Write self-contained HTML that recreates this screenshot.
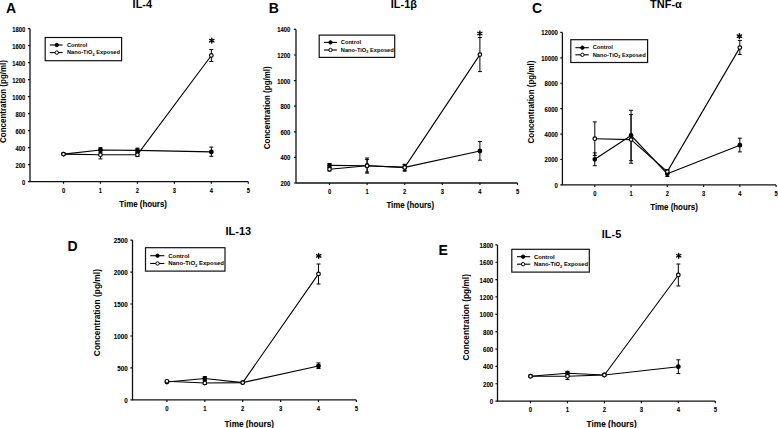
<!DOCTYPE html>
<html><head><meta charset="utf-8"><style>
html,body{margin:0;padding:0;background:#fff;}
svg{display:block;}
text{font-family:"Liberation Sans", sans-serif;font-weight:bold;fill:#000;}
.tk{stroke:#000;stroke-width:0.1px;}
</style></head><body>
<svg width="778" height="428" viewBox="0 0 778 428">
<rect width="778" height="428" fill="#fff"/>
<path d="M30.00 28.70V181.65H248.30" fill="none" stroke="#111" stroke-width="1.3" stroke-linejoin="round"/>
<text transform="translate(25.20 184.54) scale(0.833 1)" font-size="6.96" text-anchor="end" class="tk">0</text>
<text transform="translate(25.20 167.55) scale(0.833 1)" font-size="6.96" text-anchor="end" class="tk">200</text>
<text transform="translate(25.20 150.55) scale(0.833 1)" font-size="6.96" text-anchor="end" class="tk">400</text>
<text transform="translate(25.20 133.56) scale(0.833 1)" font-size="6.96" text-anchor="end" class="tk">600</text>
<text transform="translate(25.20 116.56) scale(0.833 1)" font-size="6.96" text-anchor="end" class="tk">800</text>
<text transform="translate(25.20 99.57) scale(0.833 1)" font-size="6.96" text-anchor="end" class="tk">1000</text>
<text transform="translate(25.20 82.58) scale(0.833 1)" font-size="6.96" text-anchor="end" class="tk">1200</text>
<text transform="translate(25.20 65.58) scale(0.833 1)" font-size="6.96" text-anchor="end" class="tk">1400</text>
<text transform="translate(25.20 48.59) scale(0.833 1)" font-size="6.96" text-anchor="end" class="tk">1600</text>
<text transform="translate(25.20 31.59) scale(0.833 1)" font-size="6.96" text-anchor="end" class="tk">1800</text>
<text transform="translate(63.50 193.10) scale(0.833 1)" font-size="6.96" text-anchor="middle" class="tk">0</text>
<text transform="translate(100.46 193.10) scale(0.833 1)" font-size="6.96" text-anchor="middle" class="tk">1</text>
<text transform="translate(137.42 193.10) scale(0.833 1)" font-size="6.96" text-anchor="middle" class="tk">2</text>
<text transform="translate(174.38 193.10) scale(0.833 1)" font-size="6.96" text-anchor="middle" class="tk">3</text>
<text transform="translate(211.34 193.10) scale(0.833 1)" font-size="6.96" text-anchor="middle" class="tk">4</text>
<text transform="translate(248.30 193.10) scale(0.833 1)" font-size="6.96" text-anchor="middle" class="tk">5</text>
<path d="M27.90 181.65H30.00 M27.90 164.66H30.00 M27.90 147.66H30.00 M27.90 130.67H30.00 M27.90 113.67H30.00 M27.90 96.68H30.00 M27.90 79.68H30.00 M27.90 62.69H30.00 M27.90 45.69H30.00 M27.90 28.70H30.00 M63.50 181.65V183.75 M100.46 181.65V183.75 M137.42 181.65V183.75 M174.38 181.65V183.75 M211.34 181.65V183.75 M248.30 181.65V183.75" stroke="#111" stroke-width="1.2" stroke-linecap="butt"/>
<text x="6.00" y="12.90" font-size="14" text-anchor="start" >A</text>
<text x="132.60" y="7.70" font-size="11" text-anchor="start" >IL-4</text>
<text transform="translate(119.30 206.50) scale(0.870 1)" font-size="9.08" text-anchor="start" class="tk">Time (hours)</text>
<text transform="translate(6.00 101.50) rotate(-90) scale(0.909 1)" x="0" y="0" font-size="8.80" text-anchor="middle">Concentration (pg/ml)</text>
<rect x="45.20" y="37.50" width="76.40" height="23.20" fill="#fff" stroke="#111" stroke-width="1.2"/>
<path d="M49.80 45.00H62.60" stroke="#000" stroke-width="1.1"/>
<circle cx="56.80" cy="45.00" r="1.7" fill="#000" stroke="#000" stroke-width="1"/>
<path d="M49.80 52.60H62.60" stroke="#000" stroke-width="1.1"/>
<circle cx="56.80" cy="52.60" r="1.7" fill="#fff" stroke="#000" stroke-width="1"/>
<text x="67.00" y="46.75" font-size="5.7" text-anchor="start" >Control</text>
<text x="67.00" y="54.35" font-size="5.7">Nano-TiO<tspan font-size="3.88" dy="1.43">2</tspan><tspan dy="-1.43"> Exposed</tspan></text>
<path d="M63.50 154.10 L100.46 150.00 L137.42 150.40 L211.34 151.90" fill="none" stroke="#000" stroke-width="1.1" stroke-linejoin="round"/>
<path d="M63.50 154.10 L100.46 154.70 L137.42 154.70 L211.34 55.50" fill="none" stroke="#000" stroke-width="1.1" stroke-linejoin="round"/>
<path d="M100.46 147.70V152.30M98.46 147.70H102.46M98.46 152.30H102.46" stroke="#000" stroke-width="1.0" fill="none"/>
<path d="M137.42 148.10V152.70M135.42 148.10H139.42M135.42 152.70H139.42" stroke="#000" stroke-width="1.0" fill="none"/>
<path d="M211.34 147.10V156.30M209.34 147.10H213.34M209.34 156.30H213.34" stroke="#000" stroke-width="1.0" fill="none"/>
<path d="M100.46 150.50V158.90M98.46 150.50H102.46M98.46 158.90H102.46" stroke="#000" stroke-width="1.0" fill="none"/>
<path d="M137.42 152.80V156.60M135.42 152.80H139.42M135.42 156.60H139.42" stroke="#000" stroke-width="1.0" fill="none"/>
<path d="M211.34 49.50V61.50M209.34 49.50H213.34M209.34 61.50H213.34" stroke="#000" stroke-width="1.0" fill="none"/>
<circle cx="63.50" cy="154.10" r="1.8" fill="#000" stroke="#000" stroke-width="1.2"/>
<circle cx="100.46" cy="150.00" r="1.8" fill="#000" stroke="#000" stroke-width="1.2"/>
<circle cx="137.42" cy="150.40" r="1.8" fill="#000" stroke="#000" stroke-width="1.2"/>
<circle cx="211.34" cy="151.90" r="1.8" fill="#000" stroke="#000" stroke-width="1.2"/>
<circle cx="63.50" cy="154.10" r="1.8" fill="#fff" stroke="#000" stroke-width="1.2"/>
<circle cx="100.46" cy="154.70" r="1.8" fill="#fff" stroke="#000" stroke-width="1.2"/>
<circle cx="137.42" cy="154.70" r="1.8" fill="#fff" stroke="#000" stroke-width="1.2"/>
<circle cx="211.34" cy="55.50" r="1.8" fill="#fff" stroke="#000" stroke-width="1.2"/>
<path d="M211.80 38.10L211.80 43.10M209.63 39.35L213.97 41.85M209.63 41.85L213.97 39.35" stroke="#000" stroke-width="1.3" stroke-linecap="round"/>
<path d="M296.00 29.40V183.00H517.50" fill="none" stroke="#111" stroke-width="1.3" stroke-linejoin="round"/>
<text transform="translate(290.30 185.93) scale(0.833 1)" font-size="7.08" text-anchor="end" class="tk">200</text>
<text transform="translate(290.30 160.33) scale(0.833 1)" font-size="7.08" text-anchor="end" class="tk">400</text>
<text transform="translate(290.30 134.73) scale(0.833 1)" font-size="7.08" text-anchor="end" class="tk">600</text>
<text transform="translate(290.30 109.13) scale(0.833 1)" font-size="7.08" text-anchor="end" class="tk">800</text>
<text transform="translate(290.30 83.53) scale(0.833 1)" font-size="7.08" text-anchor="end" class="tk">1000</text>
<text transform="translate(290.30 57.93) scale(0.833 1)" font-size="7.08" text-anchor="end" class="tk">1200</text>
<text transform="translate(290.30 32.33) scale(0.833 1)" font-size="7.08" text-anchor="end" class="tk">1400</text>
<text transform="translate(329.50 194.00) scale(0.833 1)" font-size="6.96" text-anchor="middle" class="tk">0</text>
<text transform="translate(367.10 194.00) scale(0.833 1)" font-size="6.96" text-anchor="middle" class="tk">1</text>
<text transform="translate(404.70 194.00) scale(0.833 1)" font-size="6.96" text-anchor="middle" class="tk">2</text>
<text transform="translate(442.30 194.00) scale(0.833 1)" font-size="6.96" text-anchor="middle" class="tk">3</text>
<text transform="translate(479.90 194.00) scale(0.833 1)" font-size="6.96" text-anchor="middle" class="tk">4</text>
<text transform="translate(517.50 194.00) scale(0.833 1)" font-size="6.96" text-anchor="middle" class="tk">5</text>
<path d="M293.90 183.00H296.00 M293.90 157.40H296.00 M293.90 131.80H296.00 M293.90 106.20H296.00 M293.90 80.60H296.00 M293.90 55.00H296.00 M293.90 29.40H296.00 M329.50 183.00V185.10 M367.10 183.00V185.10 M404.70 183.00V185.10 M442.30 183.00V185.10 M479.90 183.00V185.10 M517.50 183.00V185.10" stroke="#111" stroke-width="1.2" stroke-linecap="butt"/>
<text x="268.70" y="12.90" font-size="14" text-anchor="start" >B</text>
<text x="390.70" y="7.80" font-size="11" text-anchor="start" >IL-1β</text>
<text transform="translate(386.40 208.00) scale(0.870 1)" font-size="9.08" text-anchor="start" class="tk">Time (hours)</text>
<text transform="translate(270.10 107.75) rotate(-90) scale(0.909 1)" x="0" y="0" font-size="8.80" text-anchor="middle">Concentration (pg/ml)</text>
<rect x="319.20" y="35.10" width="75.50" height="22.30" fill="#fff" stroke="#111" stroke-width="1.2"/>
<path d="M323.90 42.40H336.90" stroke="#000" stroke-width="1.1"/>
<circle cx="330.50" cy="42.40" r="1.7" fill="#000" stroke="#000" stroke-width="1"/>
<path d="M323.90 50.00H336.90" stroke="#000" stroke-width="1.1"/>
<circle cx="330.50" cy="50.00" r="1.7" fill="#fff" stroke="#000" stroke-width="1"/>
<text x="340.80" y="44.15" font-size="5.7" text-anchor="start" >Control</text>
<text x="340.80" y="51.75" font-size="5.7">Nano-TiO<tspan font-size="3.88" dy="1.43">2</tspan><tspan dy="-1.43"> Exposed</tspan></text>
<path d="M329.50 165.40 L367.10 165.70 L404.70 167.40 L479.90 151.00" fill="none" stroke="#000" stroke-width="1.1" stroke-linejoin="round"/>
<path d="M329.50 169.30 L367.10 165.70 L404.70 167.40 L479.90 54.60" fill="none" stroke="#000" stroke-width="1.1" stroke-linejoin="round"/>
<path d="M329.50 163.50V167.30M327.50 163.50H331.50M327.50 167.30H331.50" stroke="#000" stroke-width="1.0" fill="none"/>
<path d="M367.10 159.60V173.10M365.10 159.60H369.10M365.10 173.10H369.10" stroke="#000" stroke-width="1.0" fill="none"/>
<path d="M404.70 164.40V170.40M402.70 164.40H406.70M402.70 170.40H406.70" stroke="#000" stroke-width="1.0" fill="none"/>
<path d="M479.90 141.50V160.20M477.90 141.50H481.90M477.90 160.20H481.90" stroke="#000" stroke-width="1.0" fill="none"/>
<path d="M329.50 167.50V171.00M327.50 167.50H331.50M327.50 171.00H331.50" stroke="#000" stroke-width="1.0" fill="none"/>
<path d="M367.10 158.00V172.00M365.10 158.00H369.10M365.10 172.00H369.10" stroke="#000" stroke-width="1.0" fill="none"/>
<path d="M404.70 164.40V171.20M402.70 164.40H406.70M402.70 171.20H406.70" stroke="#000" stroke-width="1.0" fill="none"/>
<path d="M479.90 37.50V71.60M477.90 37.50H481.90M477.90 71.60H481.90" stroke="#000" stroke-width="1.0" fill="none"/>
<circle cx="329.50" cy="165.40" r="1.8" fill="#000" stroke="#000" stroke-width="1.2"/>
<circle cx="367.10" cy="165.70" r="1.8" fill="#000" stroke="#000" stroke-width="1.2"/>
<circle cx="404.70" cy="167.40" r="1.8" fill="#000" stroke="#000" stroke-width="1.2"/>
<circle cx="479.90" cy="151.00" r="1.8" fill="#000" stroke="#000" stroke-width="1.2"/>
<circle cx="329.50" cy="169.30" r="1.8" fill="#fff" stroke="#000" stroke-width="1.2"/>
<circle cx="367.10" cy="165.70" r="1.8" fill="#fff" stroke="#000" stroke-width="1.2"/>
<circle cx="404.70" cy="167.40" r="1.8" fill="#fff" stroke="#000" stroke-width="1.2"/>
<circle cx="479.90" cy="54.60" r="1.8" fill="#fff" stroke="#000" stroke-width="1.2"/>
<path d="M479.85 31.00L479.85 36.00M477.68 32.25L482.02 34.75M477.68 34.75L482.02 32.25" stroke="#000" stroke-width="1.3" stroke-linecap="round"/>
<path d="M562.40 32.40V184.90H776.10" fill="none" stroke="#111" stroke-width="1.3" stroke-linejoin="round"/>
<text transform="translate(557.90 187.88) scale(0.833 1)" font-size="7.20" text-anchor="end" class="tk">0</text>
<text transform="translate(557.90 162.46) scale(0.833 1)" font-size="7.20" text-anchor="end" class="tk">2000</text>
<text transform="translate(557.90 137.04) scale(0.833 1)" font-size="7.20" text-anchor="end" class="tk">4000</text>
<text transform="translate(557.90 111.63) scale(0.833 1)" font-size="7.20" text-anchor="end" class="tk">6000</text>
<text transform="translate(557.90 86.21) scale(0.833 1)" font-size="7.20" text-anchor="end" class="tk">8000</text>
<text transform="translate(557.90 60.79) scale(0.833 1)" font-size="7.20" text-anchor="end" class="tk">10000</text>
<text transform="translate(557.90 35.38) scale(0.833 1)" font-size="7.20" text-anchor="end" class="tk">12000</text>
<text transform="translate(594.80 196.00) scale(0.833 1)" font-size="6.96" text-anchor="middle" class="tk">0</text>
<text transform="translate(631.06 196.00) scale(0.833 1)" font-size="6.96" text-anchor="middle" class="tk">1</text>
<text transform="translate(667.32 196.00) scale(0.833 1)" font-size="6.96" text-anchor="middle" class="tk">2</text>
<text transform="translate(703.58 196.00) scale(0.833 1)" font-size="6.96" text-anchor="middle" class="tk">3</text>
<text transform="translate(739.84 196.00) scale(0.833 1)" font-size="6.96" text-anchor="middle" class="tk">4</text>
<text transform="translate(776.10 196.00) scale(0.833 1)" font-size="6.96" text-anchor="middle" class="tk">5</text>
<path d="M560.30 184.90H562.40 M560.30 159.48H562.40 M560.30 134.07H562.40 M560.30 108.65H562.40 M560.30 83.23H562.40 M560.30 57.82H562.40 M560.30 32.40H562.40 M594.80 184.90V187.00 M631.06 184.90V187.00 M667.32 184.90V187.00 M703.58 184.90V187.00 M739.84 184.90V187.00 M776.10 184.90V187.00" stroke="#111" stroke-width="1.2" stroke-linecap="butt"/>
<text x="532.00" y="12.90" font-size="14" text-anchor="start" >C</text>
<text x="650.00" y="8.00" font-size="11" text-anchor="start" >TNF-α</text>
<text transform="translate(650.20 209.90) scale(0.870 1)" font-size="9.08" text-anchor="start" class="tk">Time (hours)</text>
<text transform="translate(533.50 102.05) rotate(-90) scale(0.909 1)" x="0" y="0" font-size="8.80" text-anchor="middle">Concentration (pg/ml)</text>
<rect x="570.80" y="39.70" width="76.80" height="22.80" fill="#fff" stroke="#111" stroke-width="1.2"/>
<path d="M575.40 47.70H588.80" stroke="#000" stroke-width="1.1"/>
<circle cx="582.40" cy="47.70" r="1.7" fill="#000" stroke="#000" stroke-width="1"/>
<path d="M575.40 54.80H588.80" stroke="#000" stroke-width="1.1"/>
<circle cx="582.40" cy="54.80" r="1.7" fill="#fff" stroke="#000" stroke-width="1"/>
<text x="592.70" y="49.45" font-size="5.7" text-anchor="start" >Control</text>
<text x="592.70" y="56.55" font-size="5.7">Nano-TiO<tspan font-size="3.88" dy="1.43">2</tspan><tspan dy="-1.43"> Exposed</tspan></text>
<path d="M594.80 159.30 L631.06 135.50 L667.32 173.80 L739.84 145.20" fill="none" stroke="#000" stroke-width="1.1" stroke-linejoin="round"/>
<path d="M594.80 138.70 L631.06 139.60 L667.32 171.60 L739.84 47.60" fill="none" stroke="#000" stroke-width="1.1" stroke-linejoin="round"/>
<path d="M594.80 152.90V165.70M592.80 152.90H596.80M592.80 165.70H596.80" stroke="#000" stroke-width="1.0" fill="none"/>
<path d="M631.06 110.30V160.70M629.06 110.30H633.06M629.06 160.70H633.06" stroke="#000" stroke-width="1.0" fill="none"/>
<path d="M667.32 171.00V176.50M665.32 171.00H669.32M665.32 176.50H669.32" stroke="#000" stroke-width="1.0" fill="none"/>
<path d="M739.84 138.20V151.90M737.84 138.20H741.84M737.84 151.90H741.84" stroke="#000" stroke-width="1.0" fill="none"/>
<path d="M594.80 121.90V155.50M592.80 121.90H596.80M592.80 155.50H596.80" stroke="#000" stroke-width="1.0" fill="none"/>
<path d="M631.06 114.60V163.20M629.06 114.60H633.06M629.06 163.20H633.06" stroke="#000" stroke-width="1.0" fill="none"/>
<path d="M667.32 169.50V173.70M665.32 169.50H669.32M665.32 173.70H669.32" stroke="#000" stroke-width="1.0" fill="none"/>
<path d="M739.84 40.40V54.40M737.84 40.40H741.84M737.84 54.40H741.84" stroke="#000" stroke-width="1.0" fill="none"/>
<circle cx="594.80" cy="159.30" r="1.8" fill="#000" stroke="#000" stroke-width="1.2"/>
<circle cx="631.06" cy="135.50" r="1.8" fill="#000" stroke="#000" stroke-width="1.2"/>
<circle cx="667.32" cy="173.80" r="1.8" fill="#000" stroke="#000" stroke-width="1.2"/>
<circle cx="739.84" cy="145.20" r="1.8" fill="#000" stroke="#000" stroke-width="1.2"/>
<circle cx="594.80" cy="138.70" r="1.8" fill="#fff" stroke="#000" stroke-width="1.2"/>
<circle cx="631.06" cy="139.60" r="1.8" fill="#fff" stroke="#000" stroke-width="1.2"/>
<circle cx="667.32" cy="171.60" r="1.8" fill="#fff" stroke="#000" stroke-width="1.2"/>
<circle cx="739.84" cy="47.60" r="1.8" fill="#fff" stroke="#000" stroke-width="1.2"/>
<path d="M739.40 33.60L739.40 38.60M737.23 34.85L741.57 37.35M737.23 37.35L741.57 34.85" stroke="#000" stroke-width="1.3" stroke-linecap="round"/>
<path d="M132.50 240.10V399.90H356.40" fill="none" stroke="#111" stroke-width="1.3" stroke-linejoin="round"/>
<text transform="translate(127.80 403.01) scale(0.833 1)" font-size="7.56" text-anchor="end" class="tk">0</text>
<text transform="translate(127.80 371.05) scale(0.833 1)" font-size="7.56" text-anchor="end" class="tk">500</text>
<text transform="translate(127.80 339.09) scale(0.833 1)" font-size="7.56" text-anchor="end" class="tk">1000</text>
<text transform="translate(127.80 307.13) scale(0.833 1)" font-size="7.56" text-anchor="end" class="tk">1500</text>
<text transform="translate(127.80 275.17) scale(0.833 1)" font-size="7.56" text-anchor="end" class="tk">2000</text>
<text transform="translate(127.80 243.21) scale(0.833 1)" font-size="7.56" text-anchor="end" class="tk">2500</text>
<text transform="translate(166.90 411.00) scale(0.833 1)" font-size="7.20" text-anchor="middle" class="tk">0</text>
<text transform="translate(204.80 411.00) scale(0.833 1)" font-size="7.20" text-anchor="middle" class="tk">1</text>
<text transform="translate(242.70 411.00) scale(0.833 1)" font-size="7.20" text-anchor="middle" class="tk">2</text>
<text transform="translate(280.60 411.00) scale(0.833 1)" font-size="7.20" text-anchor="middle" class="tk">3</text>
<text transform="translate(318.50 411.00) scale(0.833 1)" font-size="7.20" text-anchor="middle" class="tk">4</text>
<text transform="translate(356.40 411.00) scale(0.833 1)" font-size="7.20" text-anchor="middle" class="tk">5</text>
<path d="M130.40 399.90H132.50 M130.40 367.94H132.50 M130.40 335.98H132.50 M130.40 304.02H132.50 M130.40 272.06H132.50 M130.40 240.10H132.50 M166.90 399.90V402.00 M204.80 399.90V402.00 M242.70 399.90V402.00 M280.60 399.90V402.00 M318.50 399.90V402.00 M356.40 399.90V402.00" stroke="#111" stroke-width="1.2" stroke-linecap="butt"/>
<text x="67.50" y="251.00" font-size="14" text-anchor="start" >D</text>
<text x="225.50" y="234.80" font-size="11" text-anchor="start" >IL-13</text>
<text transform="translate(224.50 427.10) scale(0.870 1)" font-size="9.43" text-anchor="start" class="tk">Time (hours)</text>
<text transform="translate(99.50 312.60) rotate(-90) scale(0.909 1)" x="0" y="0" font-size="9.24" text-anchor="middle">Concentration (pg/ml)</text>
<rect x="145.50" y="247.70" width="79.50" height="23.40" fill="#fff" stroke="#111" stroke-width="1.2"/>
<path d="M150.20 255.70H164.30" stroke="#000" stroke-width="1.1"/>
<circle cx="157.50" cy="255.70" r="1.7" fill="#000" stroke="#000" stroke-width="1"/>
<path d="M150.20 263.50H164.30" stroke="#000" stroke-width="1.1"/>
<circle cx="157.50" cy="263.50" r="1.7" fill="#fff" stroke="#000" stroke-width="1"/>
<text x="168.20" y="257.56" font-size="6.0" text-anchor="start" >Control</text>
<text x="168.20" y="265.36" font-size="6.0">Nano-TiO<tspan font-size="4.08" dy="1.50">2</tspan><tspan dy="-1.50"> Exposed</tspan></text>
<path d="M166.90 382.00 L204.80 378.50 L242.70 382.60 L318.50 366.00" fill="none" stroke="#000" stroke-width="1.1" stroke-linejoin="round"/>
<path d="M166.90 381.30 L204.80 383.00 L242.70 382.60 L318.50 273.90" fill="none" stroke="#000" stroke-width="1.1" stroke-linejoin="round"/>
<path d="M204.80 376.60V380.40M202.80 376.60H206.80M202.80 380.40H206.80" stroke="#000" stroke-width="1.0" fill="none"/>
<path d="M318.50 362.90V368.50M316.50 362.90H320.50M316.50 368.50H320.50" stroke="#000" stroke-width="1.0" fill="none"/>
<path d="M204.80 380.60V384.40M202.80 380.60H206.80M202.80 384.40H206.80" stroke="#000" stroke-width="1.0" fill="none"/>
<path d="M318.50 264.00V284.00M316.50 264.00H320.50M316.50 284.00H320.50" stroke="#000" stroke-width="1.0" fill="none"/>
<circle cx="166.90" cy="382.00" r="1.8" fill="#000" stroke="#000" stroke-width="1.2"/>
<circle cx="204.80" cy="378.50" r="1.8" fill="#000" stroke="#000" stroke-width="1.2"/>
<circle cx="242.70" cy="382.60" r="1.8" fill="#000" stroke="#000" stroke-width="1.2"/>
<circle cx="318.50" cy="366.00" r="1.8" fill="#000" stroke="#000" stroke-width="1.2"/>
<circle cx="166.90" cy="381.30" r="1.8" fill="#fff" stroke="#000" stroke-width="1.2"/>
<circle cx="204.80" cy="383.00" r="1.8" fill="#fff" stroke="#000" stroke-width="1.2"/>
<circle cx="242.70" cy="382.60" r="1.8" fill="#fff" stroke="#000" stroke-width="1.2"/>
<circle cx="318.50" cy="273.90" r="1.8" fill="#fff" stroke="#000" stroke-width="1.2"/>
<path d="M318.70 253.40L318.70 258.40M316.53 254.65L320.87 257.15M316.53 257.15L320.87 254.65" stroke="#000" stroke-width="1.3" stroke-linecap="round"/>
<path d="M497.50 244.90V401.10H715.30" fill="none" stroke="#111" stroke-width="1.3" stroke-linejoin="round"/>
<text transform="translate(493.30 404.16) scale(0.833 1)" font-size="7.44" text-anchor="end" class="tk">0</text>
<text transform="translate(493.30 386.81) scale(0.833 1)" font-size="7.44" text-anchor="end" class="tk">200</text>
<text transform="translate(493.30 369.45) scale(0.833 1)" font-size="7.44" text-anchor="end" class="tk">400</text>
<text transform="translate(493.30 352.10) scale(0.833 1)" font-size="7.44" text-anchor="end" class="tk">600</text>
<text transform="translate(493.30 334.74) scale(0.833 1)" font-size="7.44" text-anchor="end" class="tk">800</text>
<text transform="translate(493.30 317.39) scale(0.833 1)" font-size="7.44" text-anchor="end" class="tk">1000</text>
<text transform="translate(493.30 300.03) scale(0.833 1)" font-size="7.44" text-anchor="end" class="tk">1200</text>
<text transform="translate(493.30 282.67) scale(0.833 1)" font-size="7.44" text-anchor="end" class="tk">1400</text>
<text transform="translate(493.30 265.32) scale(0.833 1)" font-size="7.44" text-anchor="end" class="tk">1600</text>
<text transform="translate(493.30 247.96) scale(0.833 1)" font-size="7.44" text-anchor="end" class="tk">1800</text>
<text transform="translate(530.50 411.80) scale(0.833 1)" font-size="7.20" text-anchor="middle" class="tk">0</text>
<text transform="translate(567.46 411.80) scale(0.833 1)" font-size="7.20" text-anchor="middle" class="tk">1</text>
<text transform="translate(604.42 411.80) scale(0.833 1)" font-size="7.20" text-anchor="middle" class="tk">2</text>
<text transform="translate(641.38 411.80) scale(0.833 1)" font-size="7.20" text-anchor="middle" class="tk">3</text>
<text transform="translate(678.34 411.80) scale(0.833 1)" font-size="7.20" text-anchor="middle" class="tk">4</text>
<text transform="translate(715.30 411.80) scale(0.833 1)" font-size="7.20" text-anchor="middle" class="tk">5</text>
<path d="M495.40 401.10H497.50 M495.40 383.74H497.50 M495.40 366.39H497.50 M495.40 349.03H497.50 M495.40 331.68H497.50 M495.40 314.32H497.50 M495.40 296.97H497.50 M495.40 279.61H497.50 M495.40 262.26H497.50 M495.40 244.90H497.50 M530.50 401.10V403.20 M567.46 401.10V403.20 M604.42 401.10V403.20 M641.38 401.10V403.20 M678.34 401.10V403.20 M715.30 401.10V403.20" stroke="#111" stroke-width="1.2" stroke-linecap="butt"/>
<text x="438.50" y="255.30" font-size="14" text-anchor="start" >E</text>
<text x="601.70" y="238.20" font-size="11" text-anchor="start" >IL-5</text>
<text transform="translate(586.60 427.40) scale(0.870 1)" font-size="9.54" text-anchor="start" class="tk">Time (hours)</text>
<text transform="translate(469.10 317.25) rotate(-90) scale(0.909 1)" x="0" y="0" font-size="9.15" text-anchor="middle">Concentration (pg/ml)</text>
<rect x="511.80" y="249.30" width="77.50" height="22.80" fill="#fff" stroke="#111" stroke-width="1.2"/>
<path d="M517.00 256.70H530.20" stroke="#000" stroke-width="1.1"/>
<circle cx="523.10" cy="256.70" r="1.7" fill="#000" stroke="#000" stroke-width="1"/>
<path d="M517.00 264.20H530.20" stroke="#000" stroke-width="1.1"/>
<circle cx="523.10" cy="264.20" r="1.7" fill="#fff" stroke="#000" stroke-width="1"/>
<text x="534.10" y="258.99" font-size="5.8" text-anchor="start" >Control</text>
<text x="534.10" y="266.49" font-size="5.8">Nano-TiO<tspan font-size="3.94" dy="1.45">2</tspan><tspan dy="-1.45"> Exposed</tspan></text>
<path d="M530.50 376.20 L567.46 373.20 L604.42 375.00 L678.34 366.70" fill="none" stroke="#000" stroke-width="1.1" stroke-linejoin="round"/>
<path d="M530.50 376.20 L567.46 376.30 L604.42 375.00 L678.34 275.00" fill="none" stroke="#000" stroke-width="1.1" stroke-linejoin="round"/>
<path d="M567.46 371.30V375.10M565.46 371.30H569.46M565.46 375.10H569.46" stroke="#000" stroke-width="1.0" fill="none"/>
<path d="M678.34 359.80V373.60M676.34 359.80H680.34M676.34 373.60H680.34" stroke="#000" stroke-width="1.0" fill="none"/>
<path d="M567.46 373.10V379.50M565.46 373.10H569.46M565.46 379.50H569.46" stroke="#000" stroke-width="1.0" fill="none"/>
<path d="M678.34 264.00V286.00M676.34 264.00H680.34M676.34 286.00H680.34" stroke="#000" stroke-width="1.0" fill="none"/>
<circle cx="530.50" cy="376.20" r="1.8" fill="#000" stroke="#000" stroke-width="1.2"/>
<circle cx="567.46" cy="373.20" r="1.8" fill="#000" stroke="#000" stroke-width="1.2"/>
<circle cx="604.42" cy="375.00" r="1.8" fill="#000" stroke="#000" stroke-width="1.2"/>
<circle cx="678.34" cy="366.70" r="1.8" fill="#000" stroke="#000" stroke-width="1.2"/>
<circle cx="530.50" cy="376.20" r="1.8" fill="#fff" stroke="#000" stroke-width="1.2"/>
<circle cx="567.46" cy="376.30" r="1.8" fill="#fff" stroke="#000" stroke-width="1.2"/>
<circle cx="604.42" cy="375.00" r="1.8" fill="#fff" stroke="#000" stroke-width="1.2"/>
<circle cx="678.34" cy="275.00" r="1.8" fill="#fff" stroke="#000" stroke-width="1.2"/>
<path d="M678.70 253.30L678.70 258.30M676.53 254.55L680.87 257.05M676.53 257.05L680.87 254.55" stroke="#000" stroke-width="1.3" stroke-linecap="round"/>
</svg></body></html>
